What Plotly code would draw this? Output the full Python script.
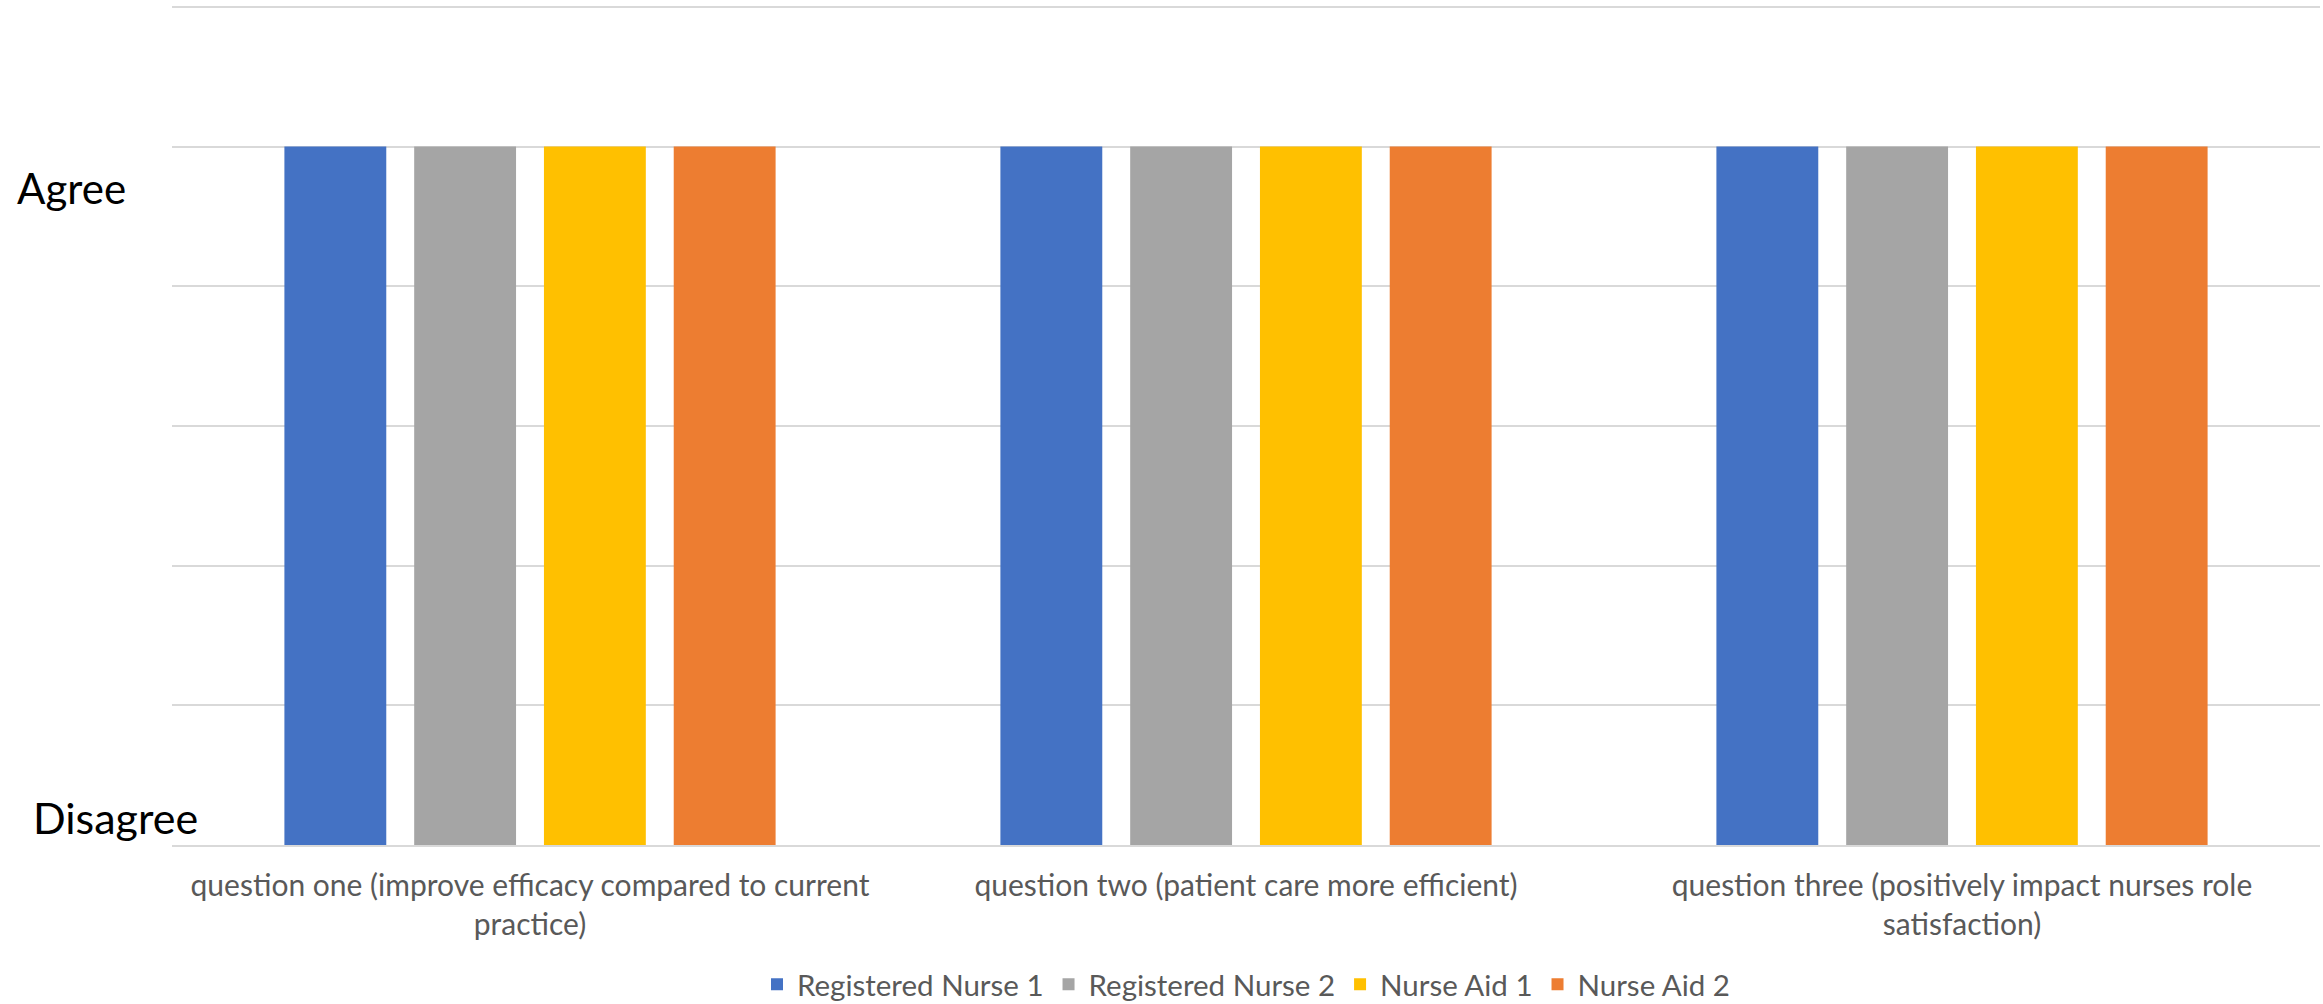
import plotly.graph_objects as go

categories = [
    "question one (improve efficacy compared to current practice)",
    "question two (patient care more efficient)",
    "question three (positively impact nurses role satisfaction)",
]
tick_labels = [
    "question one (improve efficacy compared to current<br>practice)",
    "question two (patient care more efficient)",
    "question three (positively impact nurses role<br>satisfaction)",
]
series_names = ["Registered Nurse 1", "Registered Nurse 2", "Nurse Aid 1", "Nurse Aid 2"]
registered_nurse_1 = [5, 5, 5]
registered_nurse_2 = [5, 5, 5]
nurse_aid_1 = [5, 5, 5]
nurse_aid_2 = [5, 5, 5]
series_values = [registered_nurse_1, registered_nurse_2, nurse_aid_1, nurse_aid_2]
colors = ["#4472C4", "#A5A5A5", "#FFC000", "#ED7D31"]

fig = go.Figure()
for name, vals, col in zip(series_names, series_values, colors):
    fig.add_trace(go.Bar(x=categories, y=vals, name=name, marker=dict(color=col, line=dict(width=0))))

W, H = 2323, 1004
ml, mr, mt, mb = 172, 3, 4, 159

fig.update_layout(
    width=W, height=H,
    margin=dict(l=ml, r=mr, t=mt, b=mb, pad=0, autoexpand=False),
    paper_bgcolor="white", plot_bgcolor="white",
    barmode="group", bargap=0.275, bargroupgap=0.215,
    font=dict(family="Lato", color="#595959", size=29),
    showlegend=True,
    legend=dict(orientation="h", x=0.5, xanchor="center", y=-0.166, yanchor="middle",
                font=dict(size=29.5, color="#595959"), itemsizing="constant"),
    xaxis=dict(
        tickmode="array", tickvals=categories, ticktext=tick_labels,
        showline=True, linecolor="#D9D9D9", linewidth=2,
        showgrid=False, ticks="outside", ticklen=13, tickcolor="rgba(0,0,0,0)",
        tickfont=dict(size=30, color="#595959"), automargin=False,
    ),
    yaxis=dict(
        range=[0, 6.02], tickvals=[0, 1, 2, 3, 4, 5, 6], showticklabels=False,
        showgrid=True, gridcolor="#D9D9D9", gridwidth=2,
        zeroline=False, showline=False, automargin=False,
    ),
    annotations=[
        dict(text="Agree", xref="paper", yref="y", x=(15 - ml) / (W - ml - mr), y=4.7,
             xanchor="left", yanchor="middle", showarrow=False,
             font=dict(size=42, color="black", family="Lato")),
        dict(text="Disagree", xref="paper", yref="y", x=(31 - ml) / (W - ml - mr), y=0.2,
             xanchor="left", yanchor="middle", showarrow=False,
             font=dict(size=43, color="black", family="Lato")),
    ],
)

fig.write_html("out.html")
